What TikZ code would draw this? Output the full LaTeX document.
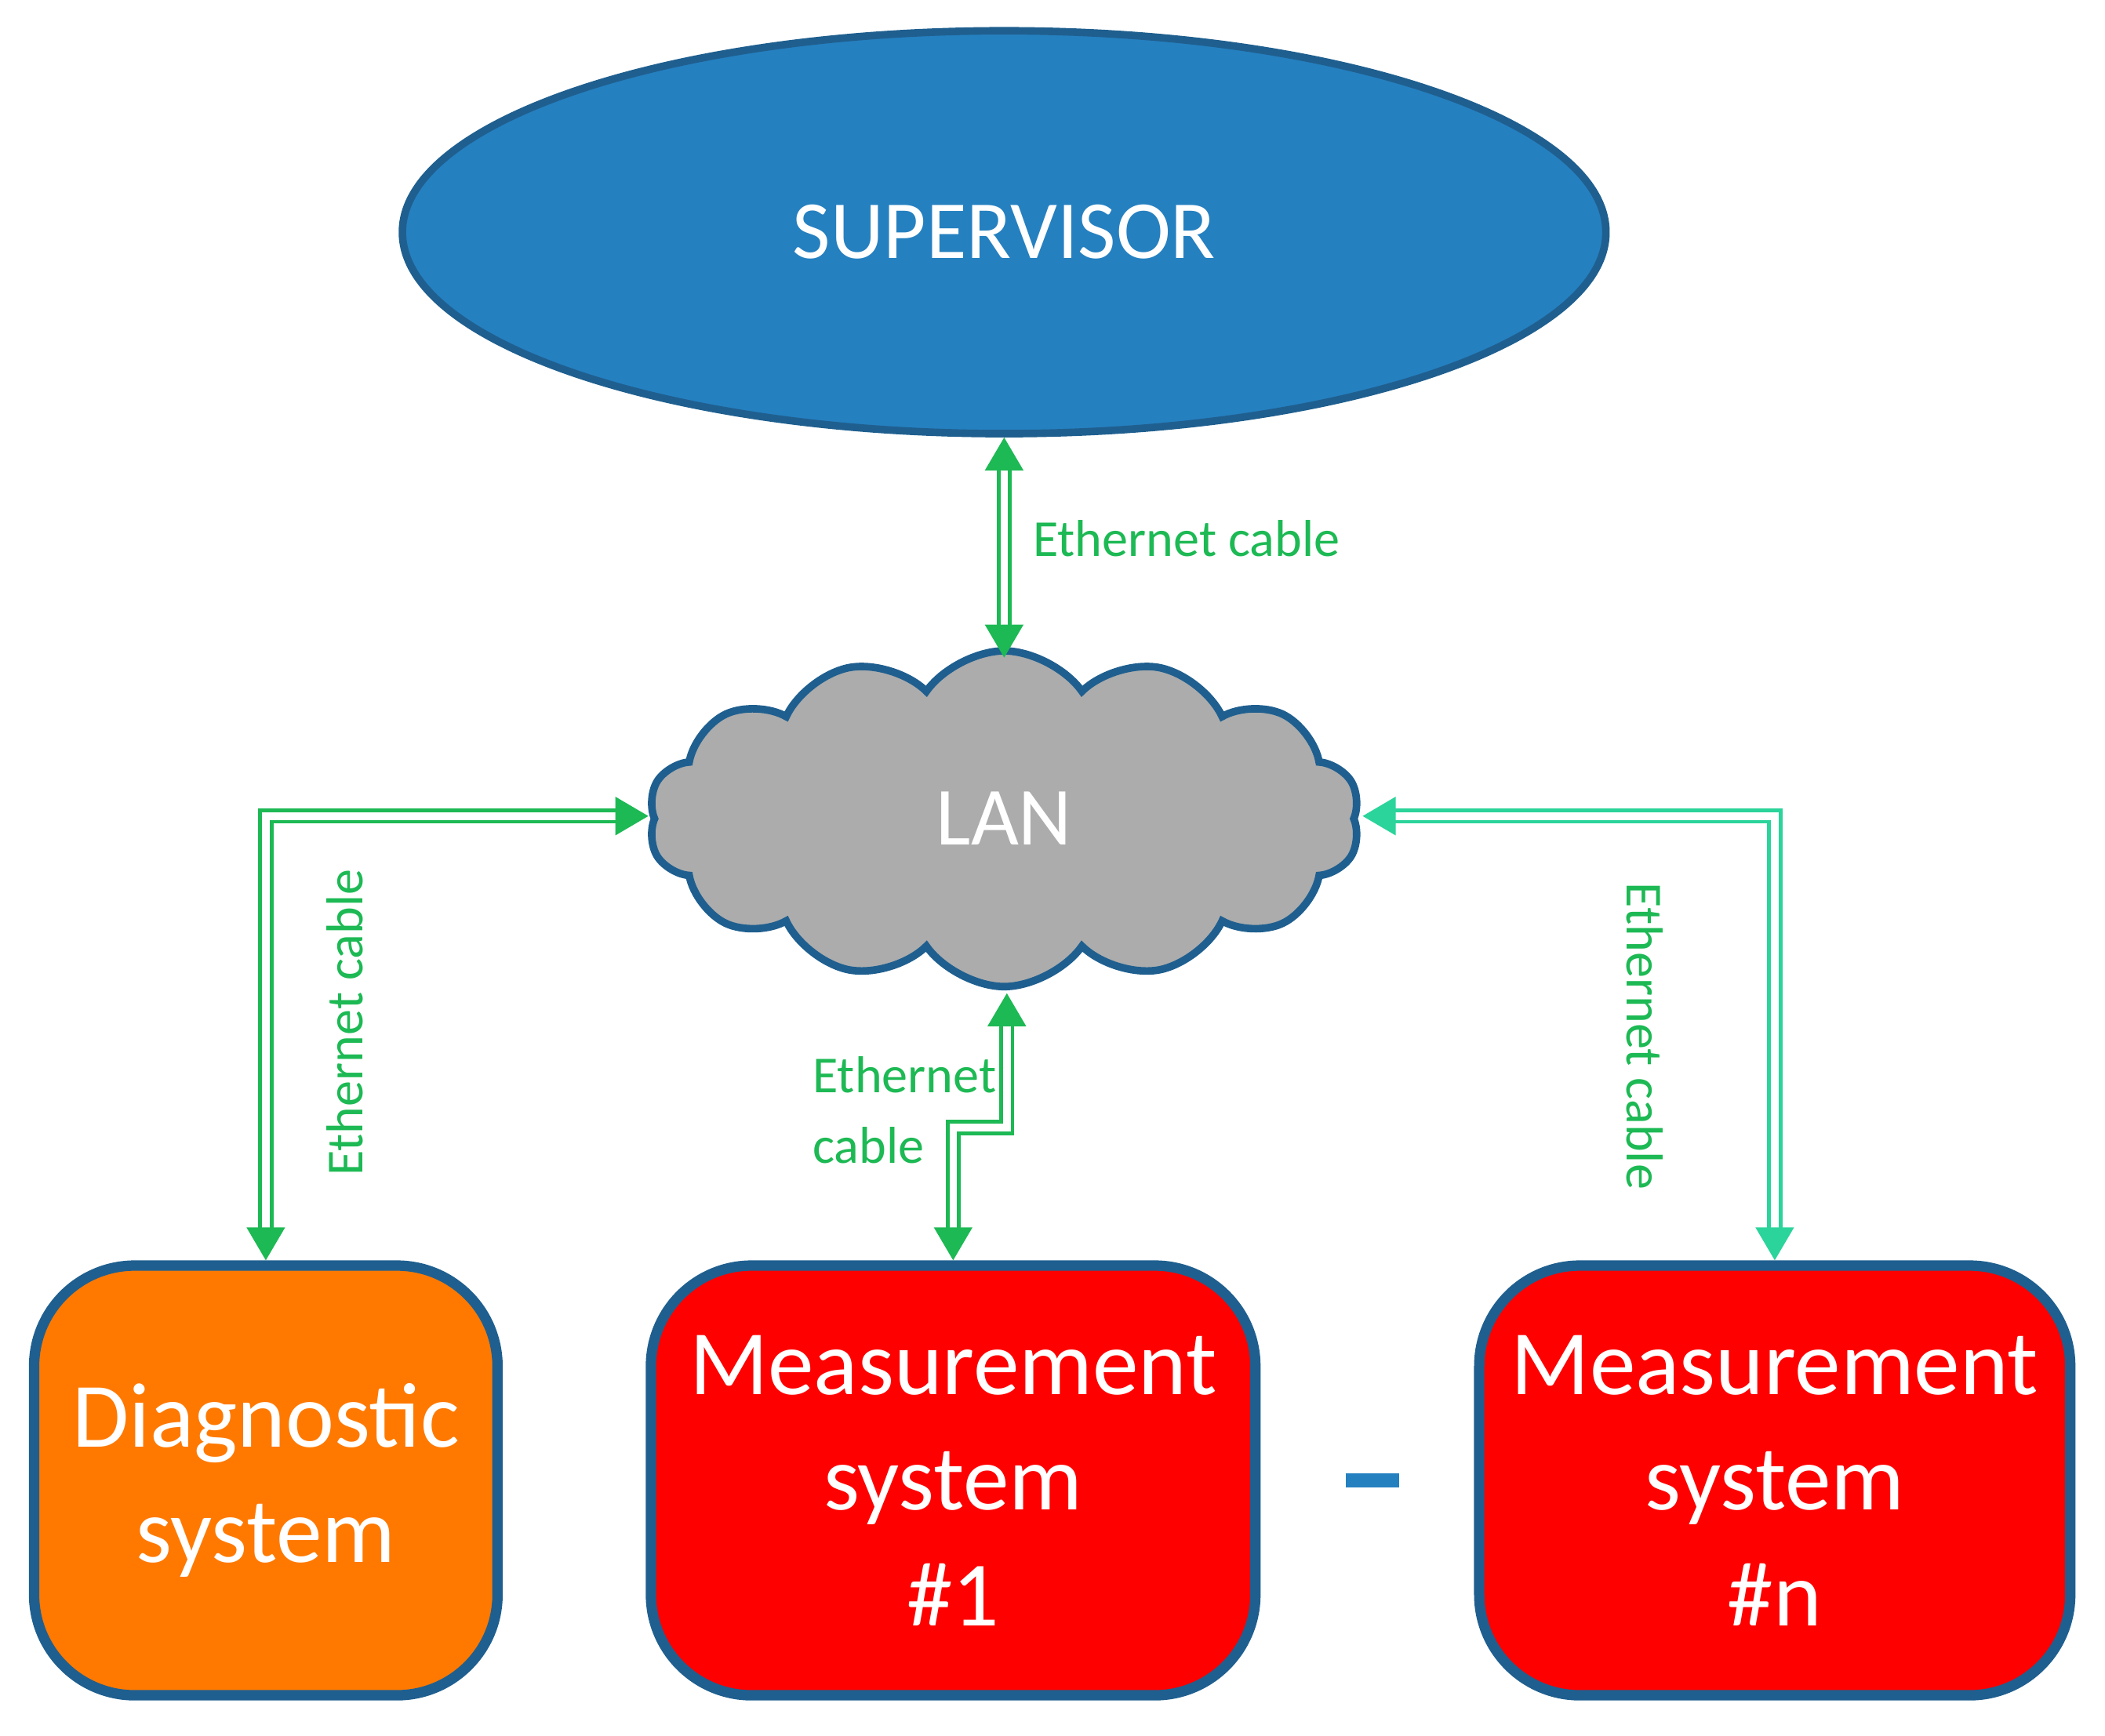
\documentclass[tikz,border=0pt]{standalone}
\usepackage{fontspec}
\setmainfont{Carlito}
\usetikzlibrary{shapes.geometric,shapes.symbols,arrows.meta}
\definecolor{sblue}{HTML}{2580C0}
\definecolor{edge}{HTML}{1F5F8F}
\definecolor{eth}{HTML}{1DB954}
\definecolor{eth2}{HTML}{2BD49A}
\begin{document}
\begin{tikzpicture}[x=0.01cm,y=-0.01cm,
 box/.style={draw=edge,line width=2.2pt,rounded corners=0.75cm,minimum height=3.2cm,inner sep=0pt,text=white,font=\fontsize{19.5}{24.5}\selectfont,align=center},
 cab/.style={draw=eth,double=white,double distance=1.6pt,line width=0.8pt,{Triangle[length=7pt,width=8pt]}-{Triangle[length=7pt,width=8pt]}},
 lab/.style={text=eth,font=\fontsize{11}{15}\selectfont}]
\useasboundingbox (0,0) rectangle (1568,1293);
\node[ellipse,draw=edge,line width=1.6pt,fill=sblue,minimum width=8.96cm,minimum height=3.0cm,text=white,font=\fontsize{17.5}{21}\selectfont] (sup) at (748,173) {SUPERVISOR};
\node[cloud,cloud puffs=14,cloud puff arc=110,aspect=2.1,draw=edge,line width=1.6pt,fill=gray!65,minimum width=5.3cm,minimum height=2.5cm,text=white,font=\fontsize{17.5}{21}\selectfont] (lan) at (748,610) {LAN};
\node[box,fill=orange!95!red,minimum width=3.45cm,text width=3.3cm] (diag) at (198,1103) {Diagnostic\\system};
\node[box,fill=red,minimum width=4.5cm,text width=4.3cm] (m1) at (710,1103) {Measurement\\system\\\#1};
\node[box,fill=red,minimum width=4.4cm,text width=4.2cm] (mn) at (1322,1103) {Measurement\\system\\\#n};
\draw[sblue,line width=3pt,dash pattern=on 0.4cm off 0.2cm] ([xshift=18]m1.east) -- ([xshift=-14]mn.west);
\coordinate (lw) at (483,608);
\coordinate (le) at (1015,608);
\coordinate (lb) at (750,740);
\coordinate (lt) at (748,490);
\draw[cab] (sup.south) -- (lt);
\draw[cab] (lw) -- (198,608) -- (diag.north);
\draw[cab,draw=eth2] (le) -- (1322,608) -- (mn.north);
\draw[cab] (lb) -- (750,840) -- (710,840) -- (m1.north);
\node[lab,anchor=west] (l1) at (757,401) {Ethernet cable};
\node[lab,rotate=90] (l2) at (257,762) {Ethernet cable};
\node[lab,rotate=-90] (l3) at (1225,772) {Ethernet cable};
\node[lab,anchor=west,align=left] (l4) at (593,827) {Ethernet\\cable};
\end{tikzpicture}
\end{document}
